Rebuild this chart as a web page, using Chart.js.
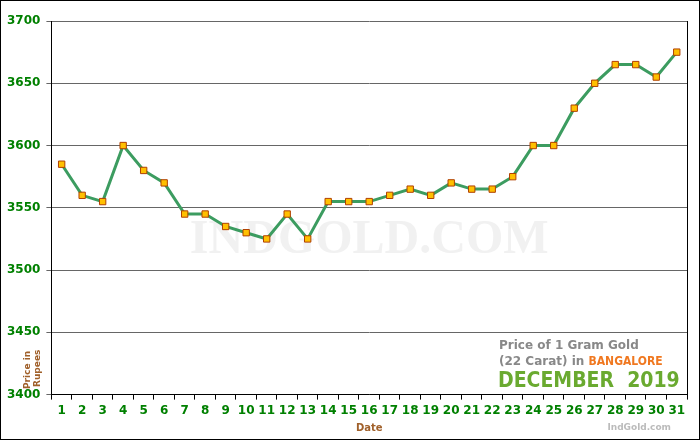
<!DOCTYPE html>
<html><head><meta charset="utf-8">
<script src="https://cdn.jsdelivr.net/npm/chart.js"></script>
<style>html,body{margin:0;padding:0;background:#fff}#w{position:absolute;left:0;top:0;width:698px;height:438px;border:1px solid #000}</style>
</head><body><div id="w"><canvas id="c" width="698" height="438"></canvas></div>
<script>
const days = Array.from({length:31},(_,i)=>String(i+1));
const prices = [3585,3560,3555,3600,3580,3570,3545,3545,3535,3530,3525,3545,3525,3555,3555,3555,3560,3565,3560,3570,3565,3565,3575,3600,3600,3630,3650,3665,3665,3655,3675];
const yTicks = [3400,3450,3500,3550,3600,3650,3700];
const deco = {id:'deco',
 beforeDatasetsDraw(ch){const {ctx,chartArea:a}=ch;ctx.save();
  ctx.font='bold 48px "Liberation Serif"';ctx.fillStyle='rgba(200,200,200,0.25)';ctx.textAlign='center';ctx.textBaseline='middle';
  ctx.fillText('INDGOLD.COM',(a.left+a.right)/2,240);
  ctx.fillStyle='#fff';ctx.fillRect(470,334,a.right-471,a.bottom-335);
  ctx.restore();},
 afterDraw(ch){const {ctx,chartArea:a}=ch;ctx.save();ctx.textBaseline='alphabetic';ctx.textAlign='left';
  ctx.strokeStyle='#000';ctx.lineWidth=1;ctx.beginPath();ctx.moveTo(a.right+0.5,a.top);ctx.lineTo(a.right+0.5,a.bottom);ctx.stroke();
  ctx.font='bold 12px "DejaVu Sans"';ctx.fillStyle='#888';ctx.fillText('Price of 1 Gram Gold',498,348);
  const s='(22 Carat) in ';ctx.fillText(s,498,364);const w=ctx.measureText(s).width;
  ctx.fillStyle='#f07820';ctx.font='bold 12px "DejaVu Sans Condensed"';ctx.fillText('BANGALORE',498+w,364);
  ctx.font='bold 21px "DejaVu Sans Condensed"';ctx.fillStyle='#6aaa30';ctx.fillText('DECEMBER  2019',497,386);
  ctx.textAlign='right';ctx.font='bold 9px "DejaVu Sans"';ctx.fillStyle='#bbb';ctx.fillText('IndGold.com',670,429);
  ctx.translate(29,388);ctx.rotate(-Math.PI/2);ctx.textAlign='left';ctx.font='bold 9px "DejaVu Sans"';ctx.fillStyle='#a0602a';
  ctx.fillText('Price in',0,0);ctx.fillText('Rupees',2,10);
  ctx.restore();}};
new Chart(document.getElementById('c'),{type:'line',
 data:{labels:days,datasets:[{data:prices,borderColor:'#3c9c60',borderWidth:3,tension:0,
  pointStyle:'rect',pointRadius:4.5,pointBackgroundColor:'#ffc000',pointBorderColor:'#b04000',pointBorderWidth:1}]},
 options:{responsive:false,animation:false,layout:{padding:{left:0,right:12,top:20,bottom:5}},
  plugins:{legend:{display:false},tooltip:{enabled:false}},
  scales:{x:{offset:true,grid:{display:true,drawOnChartArea:false,color:'#000',tickLength:5,offset:true},border:{color:'#000',width:1},
    ticks:{color:'#008000',font:{family:'DejaVu Sans',size:12,weight:'bold'},maxRotation:0,autoSkip:false,padding:4},
    title:{display:true,text:'Date',color:'#a0602a',font:{family:'DejaVu Sans',size:10,weight:'bold'},padding:0}},
   y:{min:3400,max:3700,afterBuildTicks(ax){ax.ticks=yTicks.map(v=>({value:v}));},
    grid:{color:'#666',lineWidth:1,tickLength:5},border:{color:'#000'},
    ticks:{color:'#008000',font:{family:'DejaVu Sans',size:12,weight:'bold'},padding:6,callback:v=>String(v)}}}},
 plugins:[deco]});
</script></body></html>
